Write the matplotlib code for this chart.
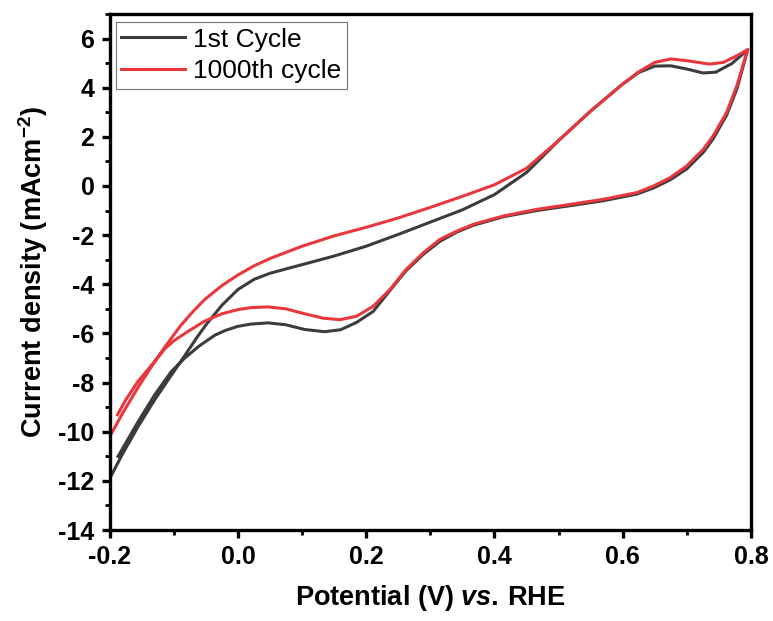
import matplotlib
matplotlib.use("Agg")
import matplotlib.pyplot as plt
from matplotlib.ticker import MultipleLocator

plt.rcParams['font.family'] = ['Liberation Sans', 'DejaVu Sans']
plt.rcParams['axes.unicode_minus'] = False
plt.rcParams['mathtext.fontset'] = 'custom'
plt.rcParams['mathtext.rm'] = 'Liberation Sans:bold'
plt.rcParams['mathtext.bf'] = 'Liberation Sans:bold'
plt.rcParams['mathtext.it'] = 'Liberation Sans:italic:bold'

# 1st cycle: anodic sweep then cathodic sweep back
pot_1st = [-0.2, -0.18, -0.156, -0.13, -0.104, -0.083, -0.065, -0.05, -0.025, 0.0,
           0.025, 0.05, 0.1, 0.15, 0.2, 0.25, 0.3, 0.35, 0.4, 0.45, 0.5, 0.55, 0.6,
           0.625, 0.65, 0.675, 0.7, 0.725, 0.745, 0.77, 0.795,
           0.778, 0.762, 0.741, 0.726, 0.7, 0.674, 0.648, 0.622, 0.57, 0.518,
           0.466, 0.414, 0.367, 0.341, 0.315, 0.289, 0.262, 0.237, 0.211, 0.185,
           0.16, 0.135, 0.104, 0.075, 0.047, 0.02, 0.0, -0.02, -0.036, -0.06, -0.083,
           -0.104, -0.13, -0.156, -0.187]
cur_1st = [-11.9, -10.9, -9.8, -8.7, -7.7, -6.9, -6.2, -5.65, -4.85, -4.21,
           -3.8, -3.55, -3.2, -2.85, -2.45, -1.97, -1.47, -0.97, -0.35, 0.55, 1.85, 3.05, 4.15,
           4.62, 4.88, 4.89, 4.76, 4.6, 4.63, 4.98, 5.55,
           3.95, 2.88, 1.92, 1.38, 0.7, 0.25, -0.08, -0.33, -0.6, -0.8,
           -1.0, -1.25, -1.6, -1.88, -2.25, -2.78, -3.45, -4.25, -5.1, -5.55,
           -5.85, -5.93, -5.84, -5.65, -5.57, -5.62, -5.71, -5.88, -6.07, -6.5, -7.0,
           -7.55, -8.5, -9.6, -11.0]

# 1000th cycle
pot_1000 = [-0.2, -0.18, -0.156, -0.135, -0.114, -0.09, -0.07, -0.052, -0.025, 0.0,
            0.025, 0.05, 0.1, 0.15, 0.2, 0.25, 0.3, 0.35, 0.4, 0.45, 0.5, 0.55, 0.6,
            0.625, 0.65, 0.675, 0.7, 0.735, 0.757, 0.778, 0.795,
            0.778, 0.762, 0.741, 0.726, 0.7, 0.674, 0.648, 0.622, 0.57, 0.518,
            0.466, 0.414, 0.367, 0.341, 0.315, 0.289, 0.262, 0.237, 0.211, 0.185,
            0.159, 0.133, 0.104, 0.075, 0.047, 0.02, 0.0, -0.025, -0.052, -0.08,
            -0.1, -0.114, -0.135, -0.156, -0.175, -0.188]
cur_1000 = [-10.2, -9.25, -8.2, -7.35, -6.55, -5.7, -5.1, -4.62, -4.05, -3.62,
            -3.25, -2.95, -2.45, -2.03, -1.68, -1.3, -0.87, -0.42, 0.05, 0.72, 1.85, 3.05, 4.15,
            4.65, 5.03, 5.17, 5.1, 4.96, 5.03, 5.3, 5.55,
            4.08, 2.99, 2.04, 1.5, 0.82, 0.34, 0.0, -0.27, -0.54, -0.75,
            -0.95, -1.22, -1.56, -1.84, -2.17, -2.72, -3.4, -4.21, -4.89, -5.3,
            -5.44, -5.38, -5.2, -5.0, -4.92, -4.95, -5.03, -5.2, -5.5, -5.95,
            -6.3, -6.62, -7.3, -7.95, -8.7, -9.31]

fig = plt.figure(figsize=(7.73, 6.21), dpi=100)
ax = fig.add_axes([0.142, 0.1465, 0.8295, 0.831])

ax.plot(pot_1st, cur_1st, color='#3c3c3c', lw=2.2, label='1st Cycle')
ax.plot(pot_1000, cur_1000, color='#e8383d', lw=2.2, label='1000th cycle')

ax.set_xlim(-0.2, 0.8)
ax.set_ylim(-14, 7)
ax.xaxis.set_minor_locator(MultipleLocator(0.1))
ax.yaxis.set_minor_locator(MultipleLocator(1))
ax.set_xticks([-0.2, 0.0, 0.2, 0.4, 0.6, 0.8])
ax.set_xticklabels(['-0.2', '0.0', '0.2', '0.4', '0.6', '0.8'])
ax.set_yticks(list(range(-14, 7, 2)))

for s in ax.spines.values():
    s.set_linewidth(2.4)
ax.tick_params(which='major', direction='out', length=6, width=2.4, labelsize=18, pad=5)
ax.tick_params(which='minor', direction='out', length=3.5, width=2.0)
for lab in ax.get_xticklabels() + ax.get_yticklabels():
    lab.set_fontweight('bold')

ax.set_xlabel(r'Potential (V) $\mathit{vs.}\,$RHE', fontsize=19.5, fontweight='bold', labelpad=10)
ax.set_ylabel(r'Current density (mAcm$^{-2}$)', fontsize=19.5, fontweight='bold', labelpad=6)

leg = ax.legend(loc='upper left', bbox_to_anchor=(0.009, 0.985), borderaxespad=0,
                fontsize=19, frameon=True, fancybox=False, handlelength=2.4,
                handletextpad=0.3, labelspacing=0.28, borderpad=0.22)
leg.get_frame().set_edgecolor('#555555')
leg.get_frame().set_linewidth(0.8)

fig.savefig('out.png', dpi=100)
